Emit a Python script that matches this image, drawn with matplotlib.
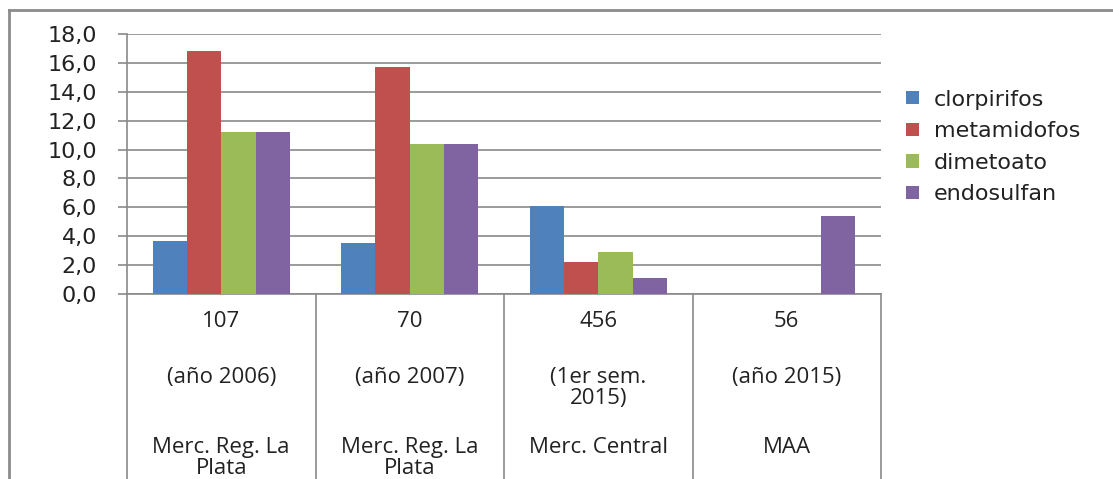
import matplotlib
matplotlib.use("Agg")
import matplotlib.pyplot as plt
import matplotlib.transforms as mtransforms
from matplotlib.lines import Line2D
from matplotlib.ticker import FuncFormatter, MultipleLocator
import numpy as np

# data
counts = ["107", "70", "456", "56"]
periods = ["(año 2006)", "(año 2007)", "(1er sem.\n2015)", "(año 2015)"]
places = ["Merc. Reg. La\nPlata", "Merc. Reg. La\nPlata", "Merc. Central", "MAA"]

series = ["clorpirifos", "metamidofos", "dimetoato", "endosulfan"]
clorpirifos = [3.7, 3.5, 6.1, 0.0]
metamidofos = [16.8, 15.7, 2.2, 0.0]
dimetoato = [11.2, 10.4, 2.9, 0.0]
endosulfan = [11.2, 10.4, 1.1, 5.4]
colors = ["#4F81BD", "#C0504D", "#9BBB59", "#8064A2"]

GRID = "#8a8a8a"
TXT = "#222222"

fig = plt.figure(figsize=(11.13, 4.79), dpi=100)
ax_bottom = 185 / 479
ax = fig.add_axes([127 / 1113, ax_bottom, 754 / 1113, 260 / 479])

x = np.arange(len(counts))
bar_w = 1 / 5.5
for i, (name, vals) in enumerate(zip(series, [clorpirifos, metamidofos, dimetoato, endosulfan])):
    ax.bar(x + (i - 1.5) * bar_w, vals, width=bar_w, color=colors[i],
           label=name, zorder=3, edgecolor="none")

ax.set_xlim(-0.5, len(counts) - 0.5)
ax.set_ylim(0, 18)
ax.yaxis.set_major_locator(MultipleLocator(2))
ax.yaxis.set_major_formatter(FuncFormatter(lambda v, _: f"{v:.1f}".replace(".", ",")))
ax.grid(True, axis="y", color=GRID, linewidth=1.2, zorder=0)
ax.set_xticks([])
ax.tick_params(axis="y", length=6.5, width=1.2, color=GRID, pad=15,
               labelsize=16, labelcolor=TXT)
for s in ("top", "right"):
    ax.spines[s].set_visible(False)
for s in ("left", "bottom"):
    ax.spines[s].set_color(GRID)
    ax.spines[s].set_linewidth(1.2)

# category table under the axis
trans = mtransforms.blended_transform_factory(ax.transData, fig.transFigure)
for b in np.arange(-0.5, len(counts)):
    ax.add_line(Line2D([b, b], [0, ax_bottom], transform=trans,
                       color=GRID, linewidth=1.2, clip_on=False))
for i in range(len(counts)):
    kw = dict(transform=trans, ha="center", va="top", fontsize=16,
              family="Open Sans", color=TXT, linespacing=1.02)
    ax.text(x[i], 1 - 311 / 479, counts[i], **kw)
    ax.text(x[i], 1 - 367 / 479, periods[i], **kw)
    ax.text(x[i], 1 - 437 / 479, places[i], **kw)

fig.legend(loc="center left", bbox_to_anchor=(906 / 1113, 1 - 147 / 479),
           frameon=False, fontsize=16, labelcolor=TXT, handlelength=0.6,
           handleheight=0.55, handletextpad=0.65, labelspacing=0.52,
           borderpad=0, borderaxespad=0)

# outer chart frame (left and top edges)
fig.add_artist(Line2D([9 / 1113, 9 / 1113], [0, 1 - 10 / 479], transform=fig.transFigure,
                      color="#8c8c8c", linewidth=2))
fig.add_artist(Line2D([9 / 1113, 1], [1 - 10 / 479, 1 - 10 / 479], transform=fig.transFigure,
                      color="#8c8c8c", linewidth=2))

fig.savefig("out.png", dpi=100)
